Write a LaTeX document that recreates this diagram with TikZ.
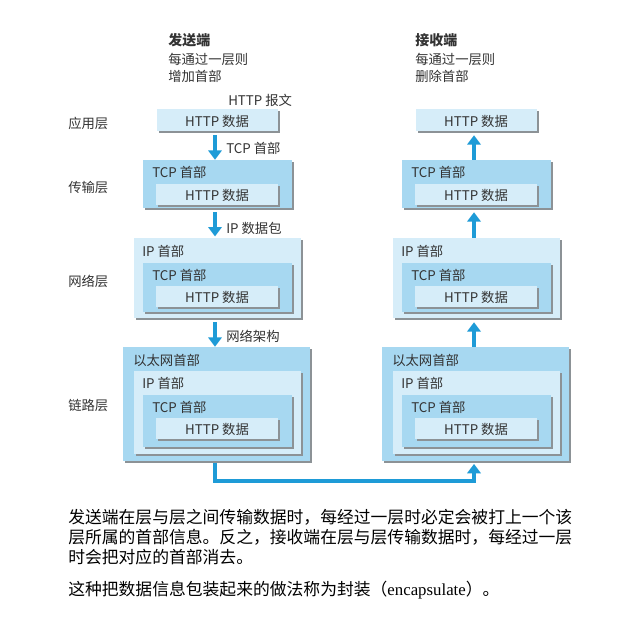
\documentclass[tikz,border=0pt]{standalone}
\usepackage{fontspec}
\setmainfont{Liberation Serif}
\newfontfamily\cjk{Noto Sans CJK SC}
\usetikzlibrary{arrows.meta,fit,shadows}
\definecolor{lb}{HTML}{D6EDF9}
\definecolor{mb}{HTML}{A7D8F1}
\definecolor{ab}{HTML}{1E9BD7}
\definecolor{sh}{HTML}{8C9296}
\definecolor{tx}{HTML}{333333}
\tikzset{
  box/.style={inner sep=0pt, draw=none,
    drop shadow={shadow xshift=1.5pt, shadow yshift=-1.5pt, fill=sh, opacity=1}},
  lbox/.style={box, fill=lb},
  mbox/.style={box, fill=mb},
  lab/.style={font=\cjk\fontsize{10}{12}\selectfont, text=tx, inner sep=0pt, anchor=west},
  ctr/.style={lab, anchor=center},
  head/.style={lab, font=\cjk\bfseries\fontsize{10.5}{12}\selectfont},
  arr/.style={draw=ab, line width=3pt, -{Triangle[width=10pt,length=7pt]}},
  para/.style={font=\cjk\fontsize{12.6}{15}\selectfont, text=black, inner sep=0pt, anchor=west}
}
\begin{document}
\begin{tikzpicture}[x=0.75pt,y=-0.75pt]
\fill[white] (0,0) rectangle (642,618);
\useasboundingbox (0,0) rectangle (642,618);

% headers
\node[head] (sendh) at (168,40) {发送端};
\node[lab] (send1) at (168,59) {每通过一层则};
\node[lab] (send2) at (168,76) {增加首部};
\node[head] (recvh) at (415,40) {接收端};
\node[lab] (recv1) at (415,59) {每通过一层则};
\node[lab] (recv2) at (415,76) {删除首部};

% layer labels
\node[lab] (l1) at (68,123) {应用层};
\node[lab] (l2) at (68,187) {传输层};
\node[lab] (l3) at (68,281) {网络层};
\node[lab] (l4) at (68,405) {链路层};

\coordinate (axL) at (215,0);
\coordinate (axR) at (474,0);

% ===== left column =====
\node[lab] (msg) at (228,100) {HTTP 报文};
\node[lbox, fit={(157,109) (278,131)}] (appL) {};
\node[ctr] (appLt) at (217,121) {HTTP 数据};

\node[mbox, fit={(143,160) (292,208)}] (tcpL) {};
\node[lab] (tcpLh) at (152,172) {TCP 首部};
\node[lbox, fit={(156,184) (278,205)}] (tcpLd) {};
\node[ctr] (tcpLdt) at (217,195) {HTTP 数据};

\node[lbox, fit={(134,238) (301,318)}] (ipL) {};
\node[lab] (ipLh) at (142,251) {IP 首部};
\node[mbox, fit={(143,263) (292,312)}] (ipLt) {};
\node[lab] (ipLth) at (152,275) {TCP 首部};
\node[lbox, fit={(156,286) (278,307)}] (ipLd) {};
\node[ctr] (ipLdt) at (217,297) {HTTP 数据};

\node[mbox, fit={(123,347) (310,461)}] (ethL) {};
\node[lab] (ethLh) at (133,360) {以太网首部};
\node[lbox, fit={(134,371) (301,454)}] (ethLi) {};
\node[lab] (ethLih) at (142,383) {IP 首部};
\node[mbox, fit={(143,395) (292,447)}] (ethLt) {};
\node[lab] (ethLth) at (152,407) {TCP 首部};
\node[lbox, fit={(156,418) (278,439)}] (ethLd) {};
\node[ctr] (ethLdt) at (217,429) {HTTP 数据};

\draw[arr, shorten <=3pt] (axL |- appL.south) -- (axL |- tcpL.north);
\node[lab] (c1) at (226,148) {TCP 首部};
\draw[arr, shorten <=3pt, shorten >=1pt] (axL |- tcpL.south) -- (axL |- ipL.north);
\node[lab] (c2) at (226,228) {IP 数据包};
\draw[arr, shorten <=3pt] (axL |- ipL.south) -- (axL |- ethL.north);
\node[lab] (c3) at (226,336) {网络架构};

% ===== right column =====
\node[lbox, fit={(416,109) (537,131)}] (appR) {};
\node[ctr] (appRt) at (476,121) {HTTP 数据};

\node[mbox, fit={(402,160) (551,208)}] (tcpR) {};
\node[lab] (tcpRh) at (411,172) {TCP 首部};
\node[lbox, fit={(415,184) (537,205)}] (tcpRd) {};
\node[ctr] (tcpRdt) at (476,195) {HTTP 数据};

\node[lbox, fit={(393,238) (560,318)}] (ipR) {};
\node[lab] (ipRh) at (401,251) {IP 首部};
\node[mbox, fit={(402,263) (551,312)}] (ipRt) {};
\node[lab] (ipRth) at (411,275) {TCP 首部};
\node[lbox, fit={(415,286) (537,307)}] (ipRd) {};
\node[ctr] (ipRdt) at (476,297) {HTTP 数据};

\node[mbox, fit={(382,347) (569,461)}] (ethR) {};
\node[lab] (ethRh) at (392,360) {以太网首部};
\node[lbox, fit={(393,371) (560,454)}] (ethRi) {};
\node[lab] (ethRih) at (401,383) {IP 首部};
\node[mbox, fit={(402,395) (551,447)}] (ethRt) {};
\node[lab] (ethRth) at (411,407) {TCP 首部};
\node[lbox, fit={(415,418) (537,439)}] (ethRd) {};
\node[ctr] (ethRdt) at (476,429) {HTTP 数据};

\draw[arr, shorten >=3pt] (axR |- tcpR.north) -- (axR |- appR.south);
\draw[arr, shorten >=3pt] (axR |- ipR.north) -- (axR |- tcpR.south);
\draw[arr, shorten >=3pt] (axR |- ethR.north) -- (axR |- ipR.south);

% bottom connector
\coordinate (low) at (0,481);
\draw[arr, shorten <=1.5pt, shorten >=2pt] (axL |- ethL.south) -- (axL |- low) -- (axR |- low) -- (axR |- ethR.south);

% paragraph
\node[para] (p1) at (68,517) {发送端在层与层之间传输数据时，每经过一层时必定会被打上一个该};
\node[para] (p2) at (68,537) {层所属的首部信息。反之，接收端在层与层传输数据时，每经过一层};
\node[para] (p3) at (68,557) {时会把对应的首部消去。};
\node[para] (p4) at (68,590) {这种把数据信息包装起来的做法称为封装（{\rmfamily encapsulate}）。};
\end{tikzpicture}
\end{document}
